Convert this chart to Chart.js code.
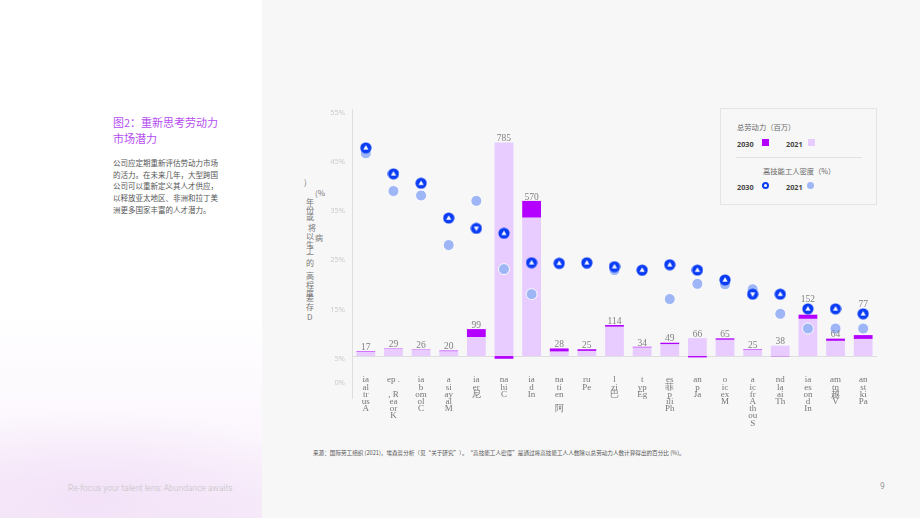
<!DOCTYPE html>
<html>
<head>
<meta charset="utf-8">
<script src="https://cdn.jsdelivr.net/npm/chart.js@4.4.1/dist/chart.umd.min.js"></script>
<style>
html, body { margin: 0; padding: 0; }
body { width: 920px; height: 518px; position: relative; overflow: hidden; background: #f7f7f7; font-family: "Noto Sans CJK SC", "Noto Sans", sans-serif; }
#left { position: absolute; left: 0; top: 0; width: 262px; height: 518px;
  background: radial-gradient(ellipse 260px 90px at 90px 500px, #f3e2f8 0%, rgba(243,226,248,0) 100%),
              linear-gradient(180deg, #ffffff 0%, #ffffff 60%, #fbf6fd 85%, #f6ecf9 100%); }
#title { position: absolute; left: 113px; top: 114px; font-size: 11px; line-height: 16px; color: #b54cf2; }
#intro { position: absolute; left: 113px; top: 157px; font-size: 7.5px; line-height: 11.7px; color: #555; }
#chartBox { position: absolute; left: 300px; top: 100px; width: 590px; height: 340px; }
#ytitle span { position: absolute; font-size: 8px; line-height: 8px; color: #777; font-family: "Noto Sans CJK SC", serif; }
#legend { position: absolute; left: 720px; top: 108px; width: 157px; height: 97px; border: 1px solid #e4e4e4; box-sizing: border-box; background: #f7f7f7; font-size: 7.3px; color: #666; }
#legend .t { position: absolute; white-space: nowrap; }
#legend .b { position: absolute; font-weight: bold; color: #444; font-family: "Noto Sans", sans-serif; }
#legend .sq { position: absolute; width: 7px; height: 7px; }
#legend .dot { position: absolute; width: 7px; height: 7px; border-radius: 50%; box-sizing: border-box; }
#legend .hr { position: absolute; left: 15px; top: 48px; width: 126px; height: 1px; background: #e2e2e2; }
#note { position: absolute; left: 313px; top: 449px; font-size: 5.6px; color: #555; white-space: nowrap; }
#footer { position: absolute; left: 68px; top: 483px; font-family: Roboto, sans-serif; font-weight: 300; font-size: 8.5px; color: #c2c2c2; }
#page { position: absolute; left: 880px; top: 481px; font-family: Roboto, sans-serif; font-size: 8.5px; color: #999; }
</style>
</head>
<body>
<div id="left"></div>
<div id="title">图2：重新思考劳动力<br>市场潜力</div>
<div id="intro">公司应定期重新评估劳动力市场<br>的活力。在未来几年，大型跨国<br>公司可以重新定义其人才供应，<br>以释放亚太地区、非洲和拉丁美<br>洲更多国家丰富的人才潜力。</div>

<div id="ytitle">
  <span style="left:304px;top:178px">)</span>
  <span style="left:315px;top:189px">(%</span>
  <span style="left:306px;top:198px">年</span>
  <span style="left:306px;top:206px">份</span>
  <span style="left:306px;top:213px">或</span>
  <span style="left:308px;top:224px">将</span>
  <span style="left:306px;top:232px">以</span>
  <span style="left:315px;top:234px">病</span>
  <span style="left:306px;top:241px">生</span>
  <span style="left:306px;top:246px">了</span>
  <span style="left:306px;top:251px">一</span>
  <span style="left:306px;top:259px">的</span>
  <span style="left:306px;top:272px">高</span>
  <span style="left:306px;top:281px">程</span>
  <span style="left:306px;top:289px">度</span>
  <span style="left:306px;top:294px">差</span>
  <span style="left:306px;top:303px">存</span>
  <span style="left:307px;top:313px">D</span>
</div>

<div id="chartBox"><canvas id="chart"></canvas></div>

<div id="legend">
  <div class="t" style="left:16px;top:13px">总劳动力（百万）</div>
  <div class="b" style="left:16px;top:30px">2030</div>
  <div class="sq" style="left:41px;top:30px;background:#b300ff"></div>
  <div class="b" style="left:65px;top:30px">2021</div>
  <div class="sq" style="left:87px;top:30px;background:#e8ccff"></div>
  <div class="hr"></div>
  <div class="t" style="left:42px;top:57px">高技能工人密度（%）</div>
  <div class="b" style="left:16px;top:73px">2030</div>
  <div class="dot" style="left:41px;top:73px;border:2px solid #0a3cf5;background:#fff"></div>
  <div class="b" style="left:65px;top:73px">2021</div>
  <div class="dot" style="left:86px;top:73px;background:#9fb6f6"></div>
</div>

<div id="note">来源：国际劳工组织 (2021)，埃森哲分析（见“关于研究”）。“高技能工人密度”是通过将高技能工人人数除以总劳动力人数计算得出的百分比 (%)。</div>
<div id="footer">Re-focus your talent lens: Abundance awaits</div>
<div id="page">9</div>

<script>
// countries, left to right
const countries = ['澳大利亚', '韩国', '哥伦比亚', '马来西亚', '尼日利亚', '中国', '印度', '阿根廷', '秘鲁', '巴西',
  '埃及', '菲律宾', '日本', '墨西哥', '南非', '泰国', '印度尼西亚', '越南', '巴基斯坦'];
// the tick labels as they appear (broken up into fragments)
const tickLines = [
  ['ia', 'al', 'tr', 'us', 'A'],
  ['ep .', '', ', R', 'ea', 'or', 'K'],
  ['ia', 'b', 'om', 'ol', 'C'],
  ['a', 'si', 'ay', 'al', 'M'],
  ['ia', 'er', '尼'],
  ['na', 'hi', 'C'],
  ['ia', 'd', 'In'],
  ['na', 'ti', 'en', '', '阿'],
  ['ru', 'Pe'],
  ['l', 'zi', '巴'],
  ['t', 'yp', 'Eg'],
  ['es', '菲', 'p', 'ili', 'Ph'],
  ['an', 'p', 'Ja'],
  ['o', 'ic', 'ex', 'M'],
  ['a', 'ic', 'fr', 'A', 'th', 'ou', 'S'],
  ['nd', 'la', 'ai', 'Th'],
  ['ia', 'es', 'on', 'd', 'In'],
  ['am', 'tn', '越', 'V'],
  ['an', 'st', 'ki', 'Pa']
];

// total workforce, millions
const workforce2021 = [15, 28, 25, 18, 70, 785, 509, 17, 19, 108, 32, 44, 66, 60, 23, 38, 137, 56, 63];
const workforce2030 = [17, 29, 26, 20, 99, 775, 570, 28, 25, 114, 34, 49, 61, 65, 25, 37, 152, 64, 77];

// high-skill worker density, %
const density2021 = [46.8, 39.1, 38.2, 28.1, 37.1, 23.2, 18.1, 24.1, 24.2, 23.0, 22.8, 17.1, 20.2, 20.1, 19.1, 14.1, 11.1, 11.1, 11.1];
const density2030 = [47.9, 42.6, 40.7, 33.6, 31.5, 30.5, 24.5, 24.4, 24.5, 23.7, 23.0, 24.1, 23.0, 21.0, 18.1, 18.1, 15.1, 15.1, 14.1];

const percentTicks = [0, 5, 15, 25, 35, 45, 55];

const DARK = '#b300ff';
const LIGHT = '#e8ccff';
const BLUE = '#0a3cf5';
const PALE = '#9fb6f6';

// change 2021 -> 2030: on top of the bar if it grows, under the baseline if it shrinks
const change = workforce2021.map((v, i) => {
  const d = workforce2030[i] - v;
  return d >= 0 ? [v, workforce2030[i]] : [d, 0];
});
const barLabels = workforce2021.map((v, i) => Math.max(v, workforce2030[i]));

function marker(up) {
  const c = document.createElement('canvas');
  c.width = 12; c.height = 12;
  const g = c.getContext('2d');
  g.fillStyle = BLUE;
  g.beginPath(); g.arc(6, 6, 5.6, 0, Math.PI * 2); g.fill();
  g.fillStyle = '#fff';
  g.beginPath();
  if (up) { g.moveTo(6, 3.2); g.lineTo(8.6, 7.8); g.lineTo(3.4, 7.8); }
  else { g.moveTo(6, 8.8); g.lineTo(8.6, 4.2); g.lineTo(3.4, 4.2); }
  g.closePath(); g.fill();
  return c;
}
const upMark = marker(true);
const downMark = marker(false);

const extras = {
  id: 'extras',
  beforeDatasetsDraw(chart) {
    const { ctx, chartArea, scales } = chart;
    const y0 = Math.round(scales.yBar.getPixelForValue(0)) + 0.5;
    ctx.save();
    ctx.strokeStyle = '#dedede';
    ctx.lineWidth = 1;
    ctx.beginPath();
    ctx.moveTo(chartArea.left, y0); ctx.lineTo(chartArea.right, y0);
    ctx.moveTo(chartArea.left + 0.5, chartArea.top - 4); ctx.lineTo(chartArea.left + 0.5, chartArea.bottom + 16);
    ctx.stroke();

    // category labels under the baseline
    ctx.font = '9px "Liberation Serif", serif';
    ctx.fillStyle = '#777';
    ctx.textAlign = 'center';
    ctx.textBaseline = 'middle';
    tickLines.forEach((lines, i) => {
      const x = scales.x.getPixelForValue(i);
      lines.forEach((t, k) => ctx.fillText(t, x, chartArea.bottom - 3 + k * 7.2));
    });
    ctx.restore();
  },
  afterDatasetsDraw(chart) {
    const { ctx, scales } = chart;
    ctx.save();
    ctx.font = '9.5px "Liberation Serif", serif';
    ctx.fillStyle = '#808080';
    ctx.textAlign = 'center';
    ctx.textBaseline = 'bottom';
    barLabels.forEach((v, i) => {
      let y = scales.yBar.getPixelForValue(v) + 1;
      const my = scales.y.getPixelForValue(density2030[i]);
      // lift the value above the 2030 marker when they would collide
      if (my < y + 6 && my > y - 24) y = my - 5;
      ctx.fillText(v, scales.x.getPixelForValue(i), y);
    });
    ctx.restore();
  }
};

new Chart(document.getElementById('chart'), {
  data: {
    labels: countries,
    datasets: [
      {
        type: 'line', label: '高技能工人密度 2030', data: density2030, yAxisID: 'y', order: 0,
        showLine: false,
        pointStyle: ctx => density2030[ctx.dataIndex] >= density2021[ctx.dataIndex] ? upMark : downMark,
        pointRadius: 6, pointHoverRadius: 6
      },
      {
        type: 'line', label: '高技能工人密度 2021', data: density2021, yAxisID: 'y', order: 1,
        showLine: false, pointRadius: 5.5, pointHoverRadius: 5.5,
        pointBackgroundColor: PALE, pointBorderColor: 'rgba(255,255,255,0.9)', pointBorderWidth: 1
      },
      {
        type: 'bar', label: '总劳动力 2030', data: change, yAxisID: 'yBar', order: 2,
        backgroundColor: DARK, grouped: false, barPercentage: 0.68, categoryPercentage: 1
      },
      {
        type: 'bar', label: '总劳动力 2021', data: workforce2021, yAxisID: 'yBar', order: 3,
        backgroundColor: LIGHT, grouped: false, barPercentage: 0.68, categoryPercentage: 1
      }
    ]
  },
  options: {
    responsive: true,
    maintainAspectRatio: false,
    animation: false,
    layout: { padding: { top: 13, right: 13, left: 0, bottom: 0 } },
    plugins: { legend: { display: false }, tooltip: { enabled: false } },
    scales: {
      x: {
        grid: { display: false, drawTicks: false },
        border: { display: false },
        ticks: { display: false },
        afterFit: s => { s.height = 57; }
      },
      y: {
        min: 0, max: 55,
        grid: { display: false, drawTicks: false },
        border: { display: false },
        afterFit: s => { s.width = 52; },
        afterBuildTicks: s => { s.ticks = percentTicks.map(v => ({ value: v })); },
        ticks: {
          padding: 7, color: '#cbcbcb',
          font: { family: '"Noto Sans", sans-serif', size: 7.5 },
          callback: v => v + '%'
        }
      },
      yBar: {
        display: false,
        min: -99, max: 893
      }
    }
  },
  plugins: [extras]
});
</script>
</body>
</html>
